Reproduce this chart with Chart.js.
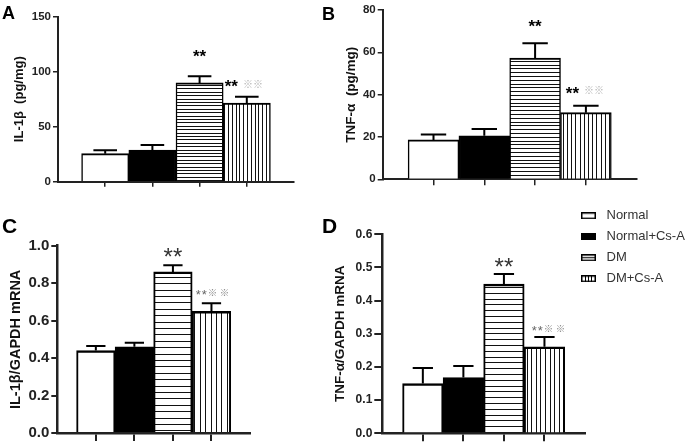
<!DOCTYPE html>
<html><head><meta charset="utf-8">
<script src="https://cdn.jsdelivr.net/npm/chart.js@4.4.1/dist/chart.umd.min.js"></script>
<style>
html,body{margin:0;padding:0;background:#fff;}
body{width:685px;height:444px;position:relative;overflow:hidden;}
canvas{position:absolute;}
</style></head><body>
<canvas id="cA" width="340" height="200" style="left:0;top:0"></canvas>
<canvas id="cB" width="370" height="200" style="left:315px;top:0"></canvas>
<canvas id="cC" width="340" height="244" style="left:0;top:200px"></canvas>
<canvas id="cD" width="370" height="244" style="left:315px;top:200px"></canvas>
<script>
// ---------- data ----------
const categories = ['Normal', 'Normal+Cs-A', 'DM', 'DM+Cs-A'];
const il1bProteinMean = [25.5, 28.8, 89.8, 71.5];
const il1bProteinErr  = [3.0, 4.5, 6.0, 5.8];
const tnfProteinMean  = [18.6, 20.6, 57.3, 31.5];
const tnfProteinErr   = [2.6, 3.2, 7.0, 3.3];
const il1bMrnaMean    = [0.44, 0.46, 0.86, 0.65];
const il1bMrnaErr     = [0.025, 0.022, 0.035, 0.043];
const tnfMrnaMean     = [0.15, 0.168, 0.45, 0.261];
const tnfMrnaErr      = [0.047, 0.035, 0.03, 0.029];
const sigVsNormal = ['', '', '**', '**'];
const sigVsDM     = ['', '', '', '※※'];
const panelLetters = ['A', 'B', 'C', 'D'];
const yTitles = ['IL-1β  (pg/mg)', 'TNF-α  (pg/mg)', 'IL-1β/GAPDH mRNA', 'TNF-α/GAPDH mRNA'];
const yTicksA = [0, 50, 100, 150];
const yTicksB = [0, 20, 40, 60, 80];
const yTicksC = [0, 0.2, 0.4, 0.6, 0.8, 1.0];
const yTicksD = [0, 0.1, 0.2, 0.3, 0.4, 0.5, 0.6];

// ---------- styles ----------
const FONT = "'Liberation Sans', Arial, Helvetica, sans-serif";
const CJK = "'Noto Sans CJK SC', 'DejaVu Sans', sans-serif";
Chart.defaults.font.family = FONT;
Chart.defaults.color = '#222';

const styleA = {canvas:'cA', yWidth:58, padTop:16.7, padRight:46, xHeight:18.3,
  yTickSize:11.5, yTickLen:5, xTickLen:5, tickW:1.5, axisW:2, titleSize:13, titlePad:11.7,
  barTop:2, barSide:1.5, hSp:3.4, vSp:3.7, errW:2, capFrac:0.5,
  letterFont:'bold 18px ' + FONT, letterX:2, letterY:18.5,
  single:{font:'bold 17px ' + FONT, color:'#000', ls:0, dy:23.3, dx:0},
  combo:{a:{font:'bold 17px ' + FONT, color:'#000', ls:0}, b:{font:'10px ' + CJK, color:'#b0b0b0', ls:0}, gap:5, dx:-3, dy:12.7}};
const styleB = {canvas:'cB', yWidth:67.7, padTop:10, padRight:48.3, xHeight:20.7,
  yTickSize:11.5, yTickLen:5, xTickLen:6, tickW:1.5, axisW:2, titleSize:13.5, titlePad:28.4,
  barTop:2, barSide:1.5, hSp:3.7, vSp:4.2, errW:2, capFrac:0.5,
  letterFont:'bold 18px ' + FONT, letterX:7, letterY:20,
  single:{font:'bold 17px ' + FONT, color:'#000', ls:0, dy:20, dx:0},
  combo:{a:{font:'bold 17px ' + FONT, color:'#000', ls:0}, b:{font:'10px ' + CJK, color:'#b0b0b0', ls:0}, gap:5, dx:-1, dy:15.6}};
const styleC = {canvas:'cC', yWidth:57.3, padTop:45.7, padRight:90, xHeight:9.7,
  yTickSize:15, yTickLen:6, xTickLen:8, tickW:2, axisW:2.5, titleSize:14.5, titlePad:7.3,
  barTop:2.5, barSide:2, hSp:6.3, vSp:5.3, errW:2, capFrac:0.5,
  letterFont:'bold 21px ' + FONT, letterX:2, letterY:32.5,
  single:{font:'24px ' + FONT, color:'#333', ls:0, dy:13, dx:0},
  combo:{a:{font:'13px ' + FONT, color:'#666', ls:1}, b:{font:'9.5px ' + CJK, color:'#888', ls:2.5}, gap:1, dx:1, dy:10.5}};
const styleD = {canvas:'cD', yWidth:67.3, padTop:34.3, padRight:0, xHeight:10.7,
  yTickSize:12, yTickLen:8, xTickLen:8, tickW:2, axisW:2.5, titleSize:13.5, titlePad:16.9,
  barTop:2.5, barSide:2, hSp:5.8, vSp:4.6, errW:2, capFrac:0.5,
  letterFont:'bold 21px ' + FONT, letterX:7, letterY:33,
  single:{font:'24px ' + FONT, color:'#333', ls:0, dy:12, dx:0},
  combo:{a:{font:'13px ' + FONT, color:'#666', ls:1}, b:{font:'9.5px ' + CJK, color:'#888', ls:2.5}, gap:1, dx:4, dy:9},
  legend:{left:258, top:1.2, width:100}};

// ---------- helpers ----------
function stripePattern(ctx, dir, spacing) {
  const n = 5, L = Math.round(spacing * n);
  const c = document.createElement('canvas');
  c.width = dir === 'h' ? 4 : L; c.height = dir === 'h' ? L : 4;
  const g = c.getContext('2d');
  g.fillStyle = '#fff'; g.fillRect(0, 0, c.width, c.height);
  g.fillStyle = '#111';
  for (let i = 0; i < n; i++) {
    const p = Math.round(i * L / n);
    if (dir === 'h') g.fillRect(0, p, c.width, 1); else g.fillRect(p, 0, 1, c.height);
  }
  return ctx.createPattern(c, 'repeat');
}
function legendIcon(kind) {
  const c = document.createElement('canvas');
  c.width = 19; c.height = 7;
  const g = c.getContext('2d');
  g.fillStyle = kind === 1 ? '#000' : '#fff';
  g.fillRect(0, 0, 15, 7);
  g.fillStyle = '#000';
  if (kind === 2) g.fillRect(0, 3, 15, 1);
  if (kind === 3) { g.fillRect(4, 0, 1, 7); g.fillRect(7, 0, 1, 7); g.fillRect(10, 0, 1, 7); }
  g.strokeStyle = '#000'; g.lineWidth = 1.5;
  g.strokeRect(0.75, 0.75, 13.5, 5.5);
  return c;
}
function segWidth(ctx, seg, text) {
  ctx.font = seg.font;
  const chars = [...text];
  let w = 0;
  chars.forEach((ch, i) => { w += ctx.measureText(ch).width + (i < chars.length - 1 ? seg.ls : 0); });
  return w;
}
function drawSeg(ctx, seg, text, x, cy) {
  ctx.font = seg.font; ctx.fillStyle = seg.color;
  ctx.textBaseline = 'alphabetic'; ctx.textAlign = 'left';
  const m = ctx.measureText(text);
  const base = cy + (m.actualBoundingBoxAscent - m.actualBoundingBoxDescent) / 2;
  let cx = x;
  for (const ch of text) { ctx.fillText(ch, cx, base); cx += ctx.measureText(ch).width + seg.ls; }
}

function marksPlugin(p) {
  const s = p.s;
  return {
    id: 'panelMarks' + p.letter,
    afterLayout(chart) {
      if (s.legend && chart.legend) {
        const l = chart.legend, h = l.height;
        l.left = s.legend.left; l.right = chart.width;
        l.top = s.legend.top; l.bottom = l.top + h;
      }
    },
    afterDatasetsDraw(chart) {
      const ctx = chart.ctx, meta = chart.getDatasetMeta(0), y = chart.scales.y;
      ctx.save();
      meta.data.forEach((el, i) => {
        const top = y.getPixelForValue(p.mean[i] + p.err[i]);
        ctx.strokeStyle = '#000'; ctx.lineWidth = s.errW; ctx.lineCap = 'butt';
        const half = el.width * s.capFrac / 2;
        ctx.beginPath();
        ctx.moveTo(el.x, el.y); ctx.lineTo(el.x, top);
        ctx.moveTo(el.x - half, top); ctx.lineTo(el.x + half, top);
        ctx.stroke();
        if (sigVsDM[i]) {
          const c = s.combo;
          const wa = segWidth(ctx, c.a, sigVsNormal[i]), wb = segWidth(ctx, c.b, sigVsDM[i]);
          const total = wa + c.gap + wb;
          const x0 = el.x + c.dx - total / 2, cy = top - c.dy;
          drawSeg(ctx, c.a, sigVsNormal[i], x0, cy);
          drawSeg(ctx, c.b, sigVsDM[i], x0 + wa + c.gap, cy);
        } else if (sigVsNormal[i]) {
          const c = s.single;
          const w = segWidth(ctx, c, sigVsNormal[i]);
          drawSeg(ctx, c, sigVsNormal[i], el.x + c.dx - w / 2, top - c.dy);
        }
      });
      ctx.restore();
    },
    afterDraw(chart) {
      const ctx = chart.ctx;
      ctx.save();
      ctx.font = s.letterFont; ctx.fillStyle = '#000';
      ctx.textBaseline = 'alphabetic'; ctx.textAlign = 'left';
      ctx.fillText(p.letter, s.letterX, s.letterY);
      ctx.restore();
    }
  };
}

function makeChart(p) {
  const s = p.s;
  const canvas = document.getElementById(s.canvas);
  const ctx = canvas.getContext('2d');
  const fills = ['#ffffff', '#000000', stripePattern(ctx, 'h', s.hSp), stripePattern(ctx, 'v', s.vSp)];
  const legendOpts = s.legend ? {
    display: true, position: 'right', align: 'start', maxWidth: s.legend.width,
    labels: {
      usePointStyle: true, pointStyleWidth: 19, boxHeight: 7, padding: 8,
      font: {size: 13}, color: '#333',
      generateLabels: () => categories.map((c, i) => ({
        text: c, pointStyle: legendIcon(i), fillStyle: '#fff', strokeStyle: '#000',
        lineWidth: 0, hidden: false, datasetIndex: 0, fontColor: '#333'
      }))
    }
  } : {display: false};
  return new Chart(canvas, {
    type: 'bar',
    data: {datasets: [{
      label: p.title,
      data: p.mean.map((v, i) => ({x: i + 1, y: v})),
      backgroundColor: fills, borderColor: '#000',
      borderWidth: {top: s.barTop, left: s.barSide, right: s.barSide, bottom: 0},
      barPercentage: 1, categoryPercentage: 1
    }]},
    options: {
      responsive: false, animation: false,
      layout: {padding: {left: 0, top: s.padTop, right: s.padRight, bottom: 0}},
      plugins: {legend: legendOpts, tooltip: {enabled: false}, title: {display: false}},
      scales: {
        x: {
          type: 'linear', min: 0, max: categories.length + 1, offset: false,
          afterBuildTicks: sc => { sc.ticks = categories.map((c, i) => ({value: i + 1})); },
          afterFit: sc => { sc.height = s.xHeight; },
          ticks: {callback: () => '', autoSkip: false, padding: 0, maxRotation: 0},
          grid: {drawOnChartArea: false, drawTicks: true, tickLength: s.xTickLen, color: '#222', lineWidth: s.tickW, offset: false},
          border: {display: true, color: '#222', width: s.axisW}
        },
        y: {
          type: 'linear', min: p.yTicks[0], max: p.yTicks[p.yTicks.length - 1],
          afterBuildTicks: sc => { sc.ticks = p.yTicks.map(v => ({value: v})); },
          afterFit: sc => { sc.width = s.yWidth; },
          ticks: {callback: v => Number(v).toFixed(p.decimals), font: {size: s.yTickSize, weight: 'bold'}, color: '#222', padding: 2},
          grid: {drawOnChartArea: false, tickLength: s.yTickLen, color: '#222', lineWidth: s.tickW},
          border: {display: true, color: '#222', width: s.axisW},
          title: {display: true, text: p.title, font: {size: s.titleSize, weight: 'bold'}, color: '#111', padding: {top: s.titlePad, bottom: 0}}
        }
      }
    },
    plugins: [marksPlugin(p)]
  });
}

const panels = [
  {letter: panelLetters[0], title: yTitles[0], mean: il1bProteinMean, err: il1bProteinErr, yTicks: yTicksA, decimals: 0, s: styleA},
  {letter: panelLetters[1], title: yTitles[1], mean: tnfProteinMean, err: tnfProteinErr, yTicks: yTicksB, decimals: 0, s: styleB},
  {letter: panelLetters[2], title: yTitles[2], mean: il1bMrnaMean, err: il1bMrnaErr, yTicks: yTicksC, decimals: 1, s: styleC},
  {letter: panelLetters[3], title: yTitles[3], mean: tnfMrnaMean, err: tnfMrnaErr, yTicks: yTicksD, decimals: 1, s: styleD}
];
panels.forEach(makeChart);
</script>
</body></html>
